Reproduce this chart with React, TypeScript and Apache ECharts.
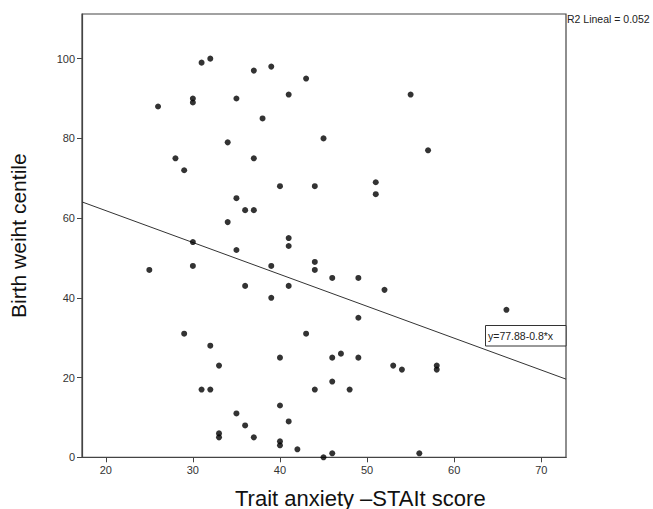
import React, { useEffect, useRef } from "react";
import * as echarts from "echarts";

const anxietyScores: number[] = [
  26, 31, 32, 30, 30, 37, 39, 43, 35, 41, 38, 34, 45, 28, 37, 29, 40, 44, 35, 36,
  37, 34, 41, 41, 30, 55, 57, 51, 51, 25, 30, 35, 39, 36, 39, 41, 44, 44, 29, 32,
  33, 43, 40, 31, 32, 44, 40, 35, 36, 41, 33, 33, 37, 40, 40, 42, 45, 46, 49, 52,
  66, 49, 46, 47, 49, 53, 54, 58, 58, 46, 48, 46, 56,
];
const birthCentiles: number[] = [
  88, 99, 100, 90, 89, 97, 98, 95, 90, 91, 85, 79, 80, 75, 75, 72, 68, 68, 65, 62,
  62, 59, 55, 53, 54, 91, 77, 69, 66, 47, 48, 52, 48, 43, 40, 43, 49, 47, 31, 28,
  23, 31, 25, 17, 17, 17, 13, 11, 8, 9, 6, 5, 5, 4, 3, 2, 0, 45, 45, 42,
  37, 35, 25, 26, 25, 23, 22, 23, 22, 19, 17, 1, 1,
];
const fitIntercept = 77.88;
const fitSlope = -0.8;
const r2Label = "R2 Lineal = 0.052";
const eqLabel = "y=77.88-0.8*x";
const xTitle = "Trait anxiety \u2013STAIt score";
const yTitle = "Birth weiht centile";
const xTicks: number[] = [20, 30, 40, 50, 60, 70];
const yTicks: number[] = [0, 20, 40, 60, 80, 100];

const X_MIN = 17.27;
const X_MAX = 72.84;
const Y_MIN = 0;
const Y_MAX = 111.2;

export default function App() {
  const ref = useRef<HTMLDivElement>(null);
  useEffect(() => {
    if (!ref.current) return;
    const chart = echarts.init(ref.current, undefined, { renderer: "svg" });
    const points = anxietyScores.map((x, i) => [x, birthCentiles[i]]);
    const fitLine = [
      [X_MIN, fitIntercept + fitSlope * X_MIN],
      [X_MAX, fitIntercept + fitSlope * X_MAX],
    ];
    const font = "Liberation Sans, Arial, sans-serif";
    chart.setOption({
      animation: false,
      backgroundColor: "#ffffff",
      grid: {
        left: 81.5,
        top: 14,
        width: 484.5,
        height: 443.3,
        show: true,
        borderColor: "#444",
        borderWidth: 1.2,
        backgroundColor: "transparent",
      },
      xAxis: {
        type: "value",
        min: X_MIN,
        max: X_MAX,
        splitLine: { show: false },
        axisLine: { lineStyle: { color: "#444", width: 1.2 } },
        axisTick: {
          show: true,
          length: 5,
          lineStyle: { color: "#444" },
          customValues: xTicks,
        },
        axisLabel: {
          customValues: xTicks,
          color: "#333",
          fontSize: 11,
          fontFamily: font,
          margin: 7,
        },
      },
      yAxis: {
        type: "value",
        min: Y_MIN,
        max: Y_MAX,
        splitLine: { show: false },
        axisLine: { show: true, lineStyle: { color: "#444", width: 1.2 } },
        axisTick: {
          show: true,
          length: 5,
          lineStyle: { color: "#444" },
          customValues: yTicks,
        },
        axisLabel: {
          customValues: yTicks,
          color: "#333",
          fontSize: 11,
          fontFamily: font,
          margin: 7,
        },
        name: yTitle,
        nameLocation: "middle",
        nameGap: 53,
        nameTextStyle: { fontSize: 21, color: "#111", fontFamily: font },
      },
      series: [
        {
          type: "scatter",
          data: points,
          symbol: "circle",
          symbolSize: 6,
          itemStyle: { color: "#000" },
          z: 3,
        },
        {
          type: "line",
          data: fitLine,
          symbol: "none",
          lineStyle: { color: "#333", width: 1 },
          z: 2,
        },
      ],
      graphic: [
        {
          type: "text",
          left: 567,
          top: 13,
          style: { text: r2Label, fontSize: 10.5, fill: "#222", fontFamily: font },
        },
        {
          type: "text",
          left: 235,
          top: 487,
          style: { text: xTitle, fontSize: 22, fill: "#111", fontFamily: font },
        },
        {
          type: "rect",
          shape: { x: 485.5, y: 325.5, width: 80.5, height: 20.5 },
          style: { fill: "#fff", stroke: "#333", lineWidth: 1 },
          z: 10,
        },
        {
          type: "text",
          left: 488,
          top: 330,
          style: { text: eqLabel, fontSize: 10.5, fill: "#222", fontFamily: font },
          z: 11,
        },
      ],
    });
    return () => chart.dispose();
  }, []);
  return <div ref={ref} style={{ width: 653, height: 509, position: "absolute", left: 0, top: 0 }} />;
}
